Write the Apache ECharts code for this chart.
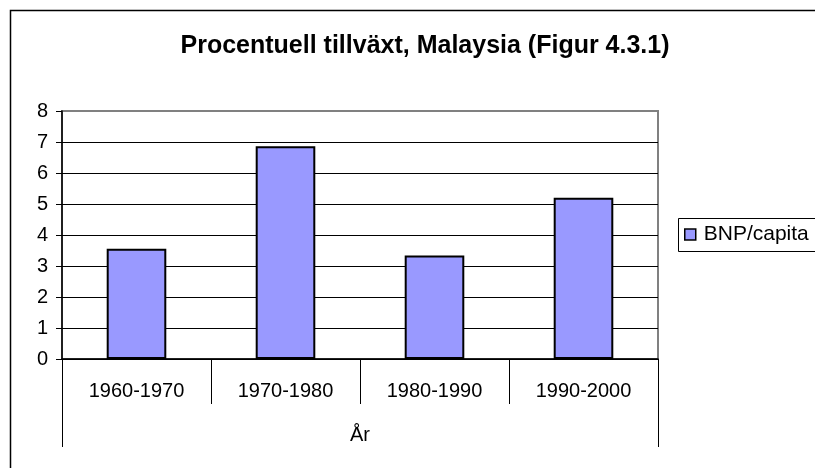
<!DOCTYPE html>
<html><head><meta charset="utf-8">
<script src="https://cdn.jsdelivr.net/npm/echarts@6/dist/echarts.min.js"></script>
<style>html,body{margin:0;padding:0;background:#fff}#c{width:815px;height:468px}</style>
</head><body><div id="c"></div>
<script>
const titleText = 'Procentuell tillväxt, Malaysia (Figur 4.3.1)';
const categories = ['1960-1970', '1970-1980', '1980-1990', '1990-2000'];
const outerCategory = ['År'];
const seriesName = 'BNP/capita';
const values = [3.56, 6.86, 3.34, 5.2];
const yTicks = {min: 0, max: 8, interval: 1};

const font = 'Liberation Sans, Arial, sans-serif';
const chart = echarts.init(document.getElementById('c'), null, {renderer: 'canvas'});
chart.setOption({
  animation: false,
  backgroundColor: '#fff',
  textStyle: {fontFamily: font, color: '#000'},
  title: {
    text: titleText, left: 420, top: 29, textAlign: 'center',
    textStyle: {fontFamily: font, fontWeight: 'bold', fontSize: 25, color: '#000'}
  },
  graphic: [{
    type: 'rect', shape: {x: 10.5, y: 10.5, width: 1000, height: 1000},
    style: {fill: 'none', stroke: '#000', lineWidth: 1.5}, silent: true, z: 100
  }, {
    type: 'rect', shape: {x: 678.5, y: 218.5, width: 300, height: 33},
    style: {fill: 'none', stroke: '#000', lineWidth: 1}, silent: true, z: 100
  }],
  legend: {
    left: 678, top: 218, orient: 'vertical',
    padding: [6, 6, 6, 6],
    itemWidth: 11, itemHeight: 11,
    itemStyle: {borderColor: '#000', borderWidth: 1.5},
    textStyle: {fontFamily: font, fontSize: 21, color: '#000', padding: [0, 0, 0, 3]},
    data: [{name: seriesName, icon: 'rect'}]
  },
  grid: {left: 62, top: 111, right: 157, bottom: 109, show: true, borderColor: '#808080', borderWidth: 2, backgroundColor: '#fff'},
  xAxis: [{
    type: 'category', data: categories, position: 'bottom',
    axisLine: {lineStyle: {color: '#000', width: 1.5}},
    axisTick: {show: true, length: 45, lineStyle: {color: '#000'}},
    axisLabel: {fontFamily: font, fontSize: 20, color: '#000', margin: 22},
    splitLine: {show: false}
  }, {
    type: 'category', data: outerCategory, position: 'bottom',
    axisLine: {show: false},
    axisTick: {show: true, length: 88, lineStyle: {color: '#000'}},
    axisLabel: {fontFamily: font, fontSize: 20, color: '#000', margin: 66},
    splitLine: {show: false}
  }],
  yAxis: {
    type: 'value', min: yTicks.min, max: yTicks.max, interval: yTicks.interval,
    axisLine: {show: true, lineStyle: {color: '#000', width: 1.5}},
    axisTick: {show: true, length: 6, lineStyle: {color: '#000'}},
    axisLabel: {fontFamily: font, fontSize: 20, color: '#000', margin: 14},
    splitLine: {show: true, showMaxLine: false, lineStyle: {color: '#000', width: 1}}
  },
  series: [{
    name: seriesName, type: 'bar', data: values, barWidth: '40%',
    itemStyle: {color: '#9999FF', borderColor: '#000', borderWidth: 2}
  }]
});
</script></body></html>
